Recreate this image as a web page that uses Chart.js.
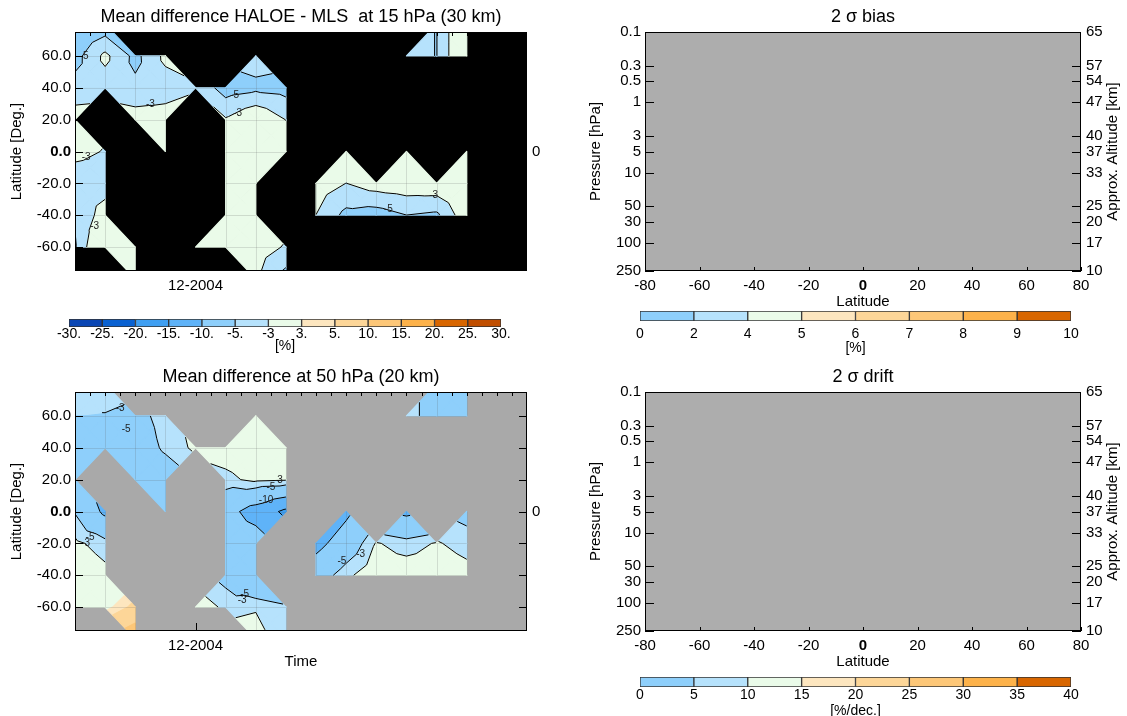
<!DOCTYPE html>
<html>
<head>
<meta charset="utf-8">
<script src="https://cdn.jsdelivr.net/npm/chart.js@4.4.0/dist/chart.umd.min.js"></script>
<style>
  html, body { margin: 0; padding: 0; background: #fff; }
  #page { position: relative; width: 1127px; height: 716px; overflow: hidden; }
  canvas { position: absolute; }
</style>
</head>
<body>
<div id="page"></div>
<script>
// ---- data ----
const _ = null;
const timeLabels = ['08-2004', '09-2004', '10-2004', '11-2004', '12-2004', '01-2005', '02-2005', '03-2005',
                    '04-2005', '05-2005', '06-2005', '07-2005', '08-2005', '09-2005', '10-2005', '11-2005'];
const lats = [80, 60, 40, 20, 0, -20, -40, -60, -80];

// mean difference HALOE - MLS [%] at 15 hPa, rows = lats, columns = months
const diff15 = [
  [-7, -6.5, _, _, _, _, _, _, _, _, _, _, -5.05, 0, _, _],
  [-5.8, -2.5, -5.6, -2.5, _, _, -4, _, _, _, _, -4.3, -5.05, 0, _, _],
  [-4.2, -4, -4.5, -4, -3.3, -6, -5.5, -5.8, _, _, _, _, _, _, _, _],
  [-2, _, -2, -2, _, -2.8, -1, -3.05, _, _, _, _, _, _, _, _],
  [-2.5, -3.1, _, -1.5, _, -1.5, -1, -1.5, _, -1, _, -1, _, -1, _, _],
  [-4, -4, _, _, _, -1, -1, _, -2, -3.02, -2, -1.7, -1.5, -1, _, _],
  [-4.8, -2, _, _, _, -1, -1, _, -3.02, -5.6, -6, -5.02, -5.4, -1.5, _, _],
  [-5.2, 0.5, -1, _, -2, -2, -2, -3.2, _, _, _, _, _, _, _, _],
  [_, _, -1, _, _, _, -2.8, -6, _, _, _, _, _, _, _, _]
];

// mean difference [%] at 50 hPa
const diff50 = [
  [-3.5, -3.2, _, _, _, _, _, _, _, _, _, _, -7, -6, _, _],
  [-5, -5.2, -6, -4, _, _, -1, _, _, _, _, -3.5, -7, -6, _, _],
  [-6.5, -9.5, -7, -4.5, -2.5, -2, -1.5, -2, _, _, _, _, _, _, _, _],
  [-7.5, _, -8, -7, _, -3.5, -2.5, -2.8, _, _, _, _, _, _, _, _],
  [-5.2, -11, _, -7, _, -8.3, -12, -16, _, -11, _, -11, _, -6, _, _],
  [-2.5, -4, _, _, _, -7, -7.5, _, -11.5, -7.5, -2.8, -4, -2.8, -3.8, _, _],
  [-1, -2.3, _, _, _, -6, -9.8, _, -7, -3.5, -1.5, -1.5, -1.5, -2.2, _, _],
  [-0.5, 2, 6, _, -1.5, -3.5, -3.2, -4.5, _, _, _, _, _, _, _, _],
  [_, _, 14, _, _, _, -2, -5, _, _, _, _, _, _, _, _]
];

const diffLevels = [-30, -25, -20, -15, -10, -5, -3, 3, 5, 10, 15, 20, 25, 30];
const diffTickLabels = ['-30.', '-25.', '-20.', '-15.', '-10.', '-5.', '-3', '3.', '5.', '10.', '15.', '20.', '25.', '30.'];
const diffColors = ['#0a46b4', '#0a62d2', '#3f9ff2', '#5fb3f8', '#8ecffb', '#b6e2fc', '#eafbe9',
                    '#fde6bf', '#fdd698', '#fdc778', '#fdb24a', '#d86600', '#c04e00'];
const lineLevels = [-15, -10, -5, -3];

// contour labels: [month index, latitude, text]
const labels15 = [[0.3, 60, '-5'], [2.5, 29.5, '-3'], [5.3, 35, '-5'], [5.4, 24, '-3'], [0.37, -3.5, '-3'],
                  [0.65, -46.7, '-3'], [11.9, -27.7, '-3'], [10.4, -36, '-5']];
const labels50 = [[1.5, 65, '-3'], [1.7, 51.6, '-5'], [6.5, 15, '-5'], [6.75, 19.5, '-3'], [6.34, 7, '-10'],
                  [0.5, -16, '-5'], [0.35, -20, '-3'], [5.63, -52, '-5'], [5.55, -56, '-3'],
                  [8.86, -31, '-5'], [9.48, -27, '-3']];

const latTicks = [60, 40, 20, 0, -20, -40, -60];
const latBins = [-80, -60, -40, -20, 0, 20, 40, 60, 80];
const pressTicks = [0.1, 0.3, 0.5, 1, 3, 5, 10, 30, 50, 100, 250];
const pressLabels = ['0.1', '0.3', '0.5', '1', '3', '5', '10', '50', '30', '100', '250'];
const altLabels = ['65', '57', '54', '47', '40', '37', '33', '25', '20', '17', '10'];

const biasLabels = ['0', '2', '4', '5', '6', '7', '8', '9', '10'];
const driftLabels = ['0', '5', '10', '15', '20', '25', '30', '35', '40'];
const sigmaColors = ['#8ecffb', '#b6e2fc', '#eafbe9', '#fde6bf', '#fdd698', '#fdc778', '#fdb24a', '#d86600'];

// ---- helpers ----
const FONT = '"Liberation Sans", Arial, Helvetica, sans-serif';
Chart.defaults.font.family = FONT;
Chart.defaults.color = '#000';

const page = document.getElementById('page');
function addCanvas(b) {
  const c = document.createElement('canvas');
  c.width = b.w; c.height = b.h;
  c.style.left = b.left + 'px'; c.style.top = b.top + 'px';
  c.style.width = b.w + 'px'; c.style.height = b.h + 'px';
  page.appendChild(c);
  return c;
}

function drawText(ctx, text, x, y, size, rot) {
  ctx.save();
  ctx.translate(x, y);
  if (rot) ctx.rotate(rot);
  ctx.font = size + 'px ' + FONT;
  ctx.fillStyle = '#000';
  ctx.textAlign = 'center';
  ctx.textBaseline = 'middle';
  ctx.fillText(text, 0, 0);
  ctx.restore();
}

function buildTriangles(grid) {
  const tris = [];
  for (let r = 0; r < grid.length - 1; r++) {
    for (let c = 0; c < grid[r].length - 1; c++) {
      const pts = [[r, c], [r, c + 1], [r + 1, c + 1], [r + 1, c]]
        .map(([i, j]) => ({x: j, y: lats[i], v: grid[i][j]}))
        .filter(p => p.v !== null);
      if (pts.length === 4) {
        const m = {x: c + 0.5, y: (lats[r] + lats[r + 1]) / 2, v: pts.reduce((s, p) => s + p.v, 0) / 4};
        for (let k = 0; k < 4; k++) tris.push([pts[k], pts[(k + 1) % 4], m]);
      } else if (pts.length === 3) {
        tris.push(pts);
      }
    }
  }
  return tris;
}

function clipPoly(poly, level, above) {
  if (!isFinite(level)) return poly;
  const out = [];
  for (let i = 0; i < poly.length; i++) {
    const a = poly[i], b = poly[(i + 1) % poly.length];
    const ina = above ? a.v >= level : a.v <= level;
    const inb = above ? b.v >= level : b.v <= level;
    if (ina) out.push(a);
    if (ina !== inb) {
      const t = (level - a.v) / (b.v - a.v);
      out.push({x: a.x + t * (b.x - a.x), y: a.y + t * (b.y - a.y), v: level});
    }
  }
  return out;
}

const contourPlugin = {
  id: 'contour',
  beforeDatasetsDraw(chart, args, o) {
    const {ctx, chartArea: a, scales: {x, y}} = chart;
    const px = p => [x.getPixelForValue(p.x), y.getPixelForValue(p.y)];
    ctx.save();
    ctx.fillStyle = o.background;
    ctx.fillRect(a.left, a.top, a.width, a.height);
    ctx.beginPath();
    ctx.rect(a.left, a.top, a.width, a.height);
    ctx.clip();
    const tris = buildTriangles(o.grid);
    // filled bands
    ctx.lineWidth = 1.2;
    ctx.lineJoin = 'round';
    for (const t of tris) {
      for (let k = 0; k < diffColors.length; k++) {
        const lo = k === 0 ? -Infinity : diffLevels[k];
        const hi = k === diffColors.length - 1 ? Infinity : diffLevels[k + 1];
        const poly = clipPoly(clipPoly(t, lo, true), hi, false);
        if (poly.length < 3) continue;
        ctx.beginPath();
        poly.forEach((p, i) => { const [X, Y] = px(p); i ? ctx.lineTo(X, Y) : ctx.moveTo(X, Y); });
        ctx.closePath();
        ctx.fillStyle = diffColors[k];
        ctx.strokeStyle = diffColors[k];
        ctx.fill();
        ctx.stroke();
      }
    }
    // faint cell seams
    ctx.strokeStyle = 'rgba(90,90,90,0.18)';
    ctx.lineWidth = 1;
    const g = o.grid;
    for (let r = 0; r < g.length; r++) {
      for (let c = 0; c < g[r].length; c++) {
        if (g[r][c] === null) continue;
        const [X0, Y0] = px({x: c, y: lats[r]});
        if (c + 1 < g[r].length && g[r][c + 1] !== null) {
          const [X1, Y1] = px({x: c + 1, y: lats[r]});
          ctx.beginPath(); ctx.moveTo(X0, Math.round(Y0) + 0.5); ctx.lineTo(X1, Math.round(Y1) + 0.5); ctx.stroke();
        }
        if (r + 1 < g.length && g[r + 1][c] !== null) {
          const [X1, Y1] = px({x: c, y: lats[r + 1]});
          ctx.beginPath(); ctx.moveTo(Math.round(X0) + 0.5, Y0); ctx.lineTo(Math.round(X1) + 0.5, Y1); ctx.stroke();
        }
      }
    }
    // contour lines
    ctx.strokeStyle = '#000';
    ctx.lineWidth = 1;
    for (const t of tris) {
      for (const L of lineLevels) {
        const pts = [];
        for (let i = 0; i < 3; i++) {
          const p = t[i], q = t[(i + 1) % 3];
          if ((p.v - L) * (q.v - L) < 0) {
            const f = (L - p.v) / (q.v - p.v);
            pts.push(px({x: p.x + f * (q.x - p.x), y: p.y + f * (q.y - p.y)}));
          }
        }
        if (pts.length === 2) {
          ctx.beginPath(); ctx.moveTo(pts[0][0], pts[0][1]); ctx.lineTo(pts[1][0], pts[1][1]); ctx.stroke();
        }
      }
    }
    // contour labels
    ctx.font = '10px ' + FONT;
    ctx.fillStyle = '#222';
    ctx.textAlign = 'center';
    ctx.textBaseline = 'middle';
    for (const [m, lat, txt] of o.labels) {
      ctx.fillText(txt, x.getPixelForValue(m), y.getPixelForValue(lat));
    }
    ctx.restore();
  }
};

const framePlugin = {
  id: 'frame',
  beforeDatasetsDraw(chart, args, o) {
    if (!o.fill) return;
    const {ctx, chartArea: a} = chart;
    ctx.save();
    ctx.fillStyle = o.fill;
    ctx.fillRect(a.left, a.top, a.width, a.height);
    ctx.restore();
  },
  afterDraw(chart, args, o) {
    const {ctx, chartArea: a, scales} = chart;
    const seg = (x1, y1, x2, y2) => { ctx.beginPath(); ctx.moveTo(x1, y1); ctx.lineTo(x2, y2); ctx.stroke(); };
    ctx.save();
    ctx.strokeStyle = '#000';
    ctx.lineWidth = 1;
    ctx.strokeRect(a.left + 0.5, a.top + 0.5, a.width - 1, a.height - 1);
    scales.y.ticks.forEach(t => {
      const py = Math.round(scales.y.getPixelForValue(t.value)) + 0.5;
      seg(a.left, py, a.left + o.yTick, py);
      seg(a.right - o.yTick, py, a.right, py);
    });
    scales.x.ticks.forEach(t => {
      const px = Math.round(scales.x.getPixelForValue(t.value)) + 0.5;
      seg(px, a.bottom, px, a.bottom - o.xTick);
    });
    (o.minor || []).forEach(v => {
      const px = Math.round(scales.x.getPixelForValue(v)) + 0.5;
      seg(px, a.top, px, a.top + 4);
    });
    ctx.restore();
    const cx = (a.left + a.right) / 2, cy = (a.top + a.bottom) / 2;
    drawText(ctx, o.title, cx, a.top - 15, 18);
    if (o.yTitle) drawText(ctx, o.yTitle, a.left + o.yTitleDx, cy, 15, -Math.PI / 2);
    if (o.y2Title) drawText(ctx, o.y2Title, a.right + o.y2TitleDx, cy, 15, -Math.PI / 2);
    if (o.xTitle) drawText(ctx, o.xTitle, cx, a.bottom + 31, 15);
  }
};

const zeroBold = size => c => ({size, family: FONT, weight: c.tick && c.tick.value === 0 ? 'bold' : 'normal'});
const halfMonths = timeLabels.flatMap((_, i) => [i, i + 0.5]).filter(v => v > 0 && v < timeLabels.length - 1);
const decIdx = timeLabels.map((t, i) => t.startsWith('12-') ? i : -1).filter(i => i >= 0);

function contourChart(box, grid, background, title, xTitle, labels) {
  return new Chart(addCanvas(box), {
    type: 'scatter',
    data: {datasets: [{data: []}]},
    options: {
      responsive: false, animation: false, devicePixelRatio: 1, events: [],
      layout: {padding: {top: 32, left: 0, right: 0, bottom: 0}},
      plugins: {
        legend: {display: false}, tooltip: {enabled: false},
        contour: {grid, background, labels},
        frame: {title, xTitle, yTitle: 'Latitude [Deg.]', yTitleDx: -58, yTick: 8, xTick: 8, minor: halfMonths}
      },
      scales: {
        x: {
          type: 'linear', position: 'bottom', min: 0, max: timeLabels.length - 1,
          grid: {display: false, drawTicks: false}, border: {display: false},
          afterBuildTicks: s => { s.ticks = decIdx.map(v => ({value: v})); },
          afterFit: s => { s.height = box.h - 32 - 239; },
          ticks: {autoSkip: false, maxRotation: 0, padding: 6, font: {size: 15}, callback: v => timeLabels[v]}
        },
        y: {
          type: 'linear', position: 'left', min: -75, max: 75,
          grid: {display: false, drawTicks: false}, border: {display: false},
          afterBuildTicks: s => { s.ticks = latTicks.map(v => ({value: v})); },
          afterFit: s => { s.width = 75; },
          ticks: {autoSkip: false, padding: 4, font: zeroBold(15), callback: v => v.toFixed(1)}
        },
        y2: {
          type: 'linear', axis: 'y', position: 'right', min: -75, max: 75,
          grid: {display: false, drawTicks: false}, border: {display: false},
          afterBuildTicks: s => { s.ticks = [{value: 0}]; },
          afterFit: s => { s.width = box.w - 527; },
          ticks: {autoSkip: false, padding: 5, font: {size: 15}, callback: () => '0'}
        }
      }
    },
    plugins: [contourPlugin, framePlugin]
  });
}

function sigmaChart(box, title) {
  const logAxis = (position, labels, width, pad) => ({
    type: 'logarithmic', axis: 'y', position, min: 0.1, max: 250, reverse: true,
    grid: {display: false, drawTicks: false}, border: {display: false},
    afterBuildTicks: s => { s.ticks = pressTicks.map(v => ({value: v})); },
    afterFit: s => { s.width = width; },
    ticks: {autoSkip: false, padding: pad, font: {size: 15}, callback: (v, i) => labels[i]}
  });
  return new Chart(addCanvas(box), {
    type: 'scatter',
    data: {datasets: [{data: []}]},
    options: {
      responsive: false, animation: false, devicePixelRatio: 1, events: [],
      layout: {padding: {top: 32, left: 0, right: 0, bottom: 0}},
      plugins: {
        legend: {display: false}, tooltip: {enabled: false},
        frame: {fill: '#adadad', title, xTitle: 'Latitude', yTitle: 'Pressure [hPa]', yTitleDx: -49,
                y2Title: 'Approx. Altitude [km]', y2TitleDx: 32, yTick: 9, xTick: 4}
      },
      scales: {
        x: {
          type: 'linear', position: 'bottom', min: -80, max: 80,
          grid: {display: false, drawTicks: false}, border: {display: false},
          afterBuildTicks: s => { s.ticks = latBins.map(v => ({value: v})); },
          afterFit: s => { s.height = box.h - 32 - 239; },
          ticks: {autoSkip: false, maxRotation: 0, padding: 6, font: zeroBold(15), callback: v => String(v)}
        },
        y: logAxis('left', pressLabels, 65, 4),
        y2: logAxis('right', altLabels, box.w - 501, 5)
      }
    },
    plugins: [framePlugin]
  });
}

const unitPlugin = {
  id: 'unit',
  afterDraw(chart, args, o) {
    const a = chart.chartArea;
    drawText(chart.ctx, o.text, (a.left + a.right) / 2, a.bottom + o.dy, 14);
  }
};

function colorbar(box, pad, colors, labels, unit, labelPad, unitDy) {
  return new Chart(addCanvas(box), {
    type: 'bar',
    data: {
      labels: [''],
      datasets: colors.map(c => ({
        data: [1], backgroundColor: c, borderColor: '#333', borderWidth: 1, borderSkipped: false,
        barPercentage: 1, categoryPercentage: 1
      }))
    },
    options: {
      indexAxis: 'y', responsive: false, animation: false, devicePixelRatio: 1, events: [],
      layout: {padding: {top: pad.top, left: pad.left, right: pad.right, bottom: 0}},
      plugins: {legend: {display: false}, tooltip: {enabled: false}, unit: {text: unit, dy: unitDy}},
      scales: {
        x: {
          type: 'linear', stacked: true, min: 0, max: colors.length,
          grid: {display: false, drawTicks: false}, border: {display: false},
          afterBuildTicks: s => { s.ticks = labels.map((_, i) => ({value: i})); },
          afterFit: s => { s.height = box.h - pad.top - pad.bar; },
          ticks: {autoSkip: false, maxRotation: 0, padding: labelPad, font: {size: 14}, callback: (v, i) => labels[i]}
        },
        y: {stacked: true, display: false}
      }
    },
    plugins: [unitPlugin]
  });
}

// ---- layout ----
contourChart({left: 0, top: 0, w: 560, h: 300}, diff15, '#000000',
             'Mean difference HALOE - MLS  at 15 hPa (30 km)', null, labels15);
contourChart({left: 0, top: 360, w: 560, h: 356}, diff50, '#a9a9a9',
             'Mean difference at 50 hPa (20 km)', 'Time', labels50);
sigmaChart({left: 580, top: 0, w: 547, h: 312}, '2 \u03c3 bias');
sigmaChart({left: 580, top: 360, w: 547, h: 312}, '2 \u03c3 drift');

colorbar({left: 40, top: 300, w: 500, h: 60}, {top: 19, left: 29, right: 39, bar: 8},
         diffColors, diffTickLabels, '[%]', -1, 19);
colorbar({left: 600, top: 290, w: 527, h: 70}, {top: 21, left: 40, right: 56, bar: 10},
         sigmaColors, biasLabels, '[%]', 5, 27);
colorbar({left: 600, top: 660, w: 527, h: 56}, {top: 17, left: 40, right: 56, bar: 10},
         sigmaColors, driftLabels, '[%/dec.]', 0, 24);
</script>
</body>
</html>
